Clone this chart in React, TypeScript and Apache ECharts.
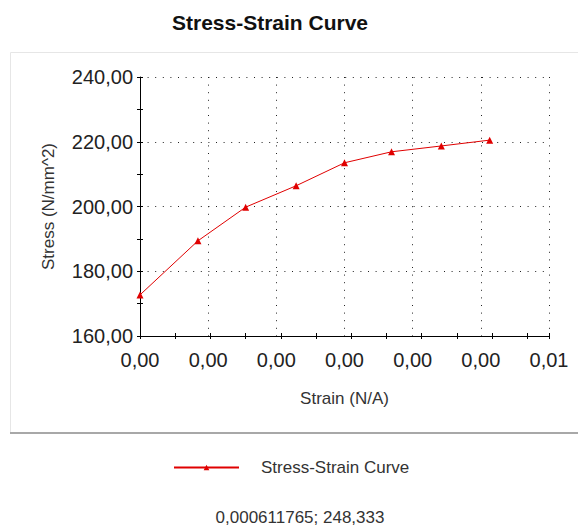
import React, { useEffect, useRef } from "react";
import * as echarts from "echarts";

const seriesName = "Stress-Strain Curve";
const strain = [0, 0.00085, 0.00155, 0.00229, 0.003, 0.00369, 0.00442, 0.00513];
const stress = [172.7, 189.4, 199.8, 206.4, 213.5, 216.9, 218.7, 220.5];
const xTickLabels = ["0,00", "0,00", "0,00", "0,00", "0,00", "0,00", "0,01"];
const cursorText = "0,000611765; 248,333";

const FONT = '"Liberation Sans", Arial, sans-serif';

export default function App() {
  const ref = useRef<HTMLDivElement>(null);
  useEffect(() => {
    if (!ref.current) return;
    const chart = echarts.init(ref.current, undefined, { renderer: "svg" });
    const tickAxisBase = {
      type: "value",
      position: "bottom",
      min: 0,
      max: 11.62,
      interval: 1,
      axisLine: { show: false },
      axisLabel: { show: false },
      splitLine: { show: false },
    };
    const yTickBase = {
      type: "value",
      position: "left",
      min: 160,
      max: 240,
      interval: 10,
      axisLine: { show: false },
      axisLabel: { show: false },
      splitLine: { show: false },
    };
    chart.setOption({
      animation: false,
      textStyle: { fontFamily: FONT },
      grid: { left: 140, right: 29, top: 77, bottom: 189 },
      xAxis: [
        {
          type: "value",
          position: "bottom",
          min: 0,
          max: 0.006,
          interval: 0.001,
          name: "Strain (N/A)",
          nameLocation: "middle",
          nameGap: 54,
          nameTextStyle: { fontSize: 17, color: "#333", fontFamily: FONT },
          axisLine: { show: true, lineStyle: { color: "#000", width: 1 } },
          axisTick: { show: false },
          axisLabel: {
            fontSize: 20,
            color: "#222",
            margin: 14,
            fontFamily: FONT,
            formatter: (_v: number, i: number) => xTickLabels[i] ?? "",
          },
          splitLine: {
            show: true,
            lineStyle: { color: "#222", width: 1, type: [1, 6.6] },
          },
        },
        { ...tickAxisBase, axisTick: { show: true, inside: false, length: 3, lineStyle: { color: "#000" } } },
        { ...tickAxisBase, axisTick: { show: true, inside: true, length: 3, lineStyle: { color: "#000" } } },
      ],
      yAxis: [
        {
          type: "value",
          position: "left",
          min: 160,
          max: 240,
          interval: 20,
          name: "Stress (N/mm^2)",
          nameLocation: "middle",
          nameGap: 83,
          nameRotate: 90,
          nameTextStyle: { fontSize: 17, color: "#333", fontFamily: FONT },
          axisLine: { show: true, lineStyle: { color: "#000", width: 1 } },
          axisTick: { show: false },
          axisLabel: {
            fontSize: 20,
            color: "#222",
            margin: 7,
            fontFamily: FONT,
            formatter: (v: number) => v.toFixed(2).replace(".", ","),
          },
          splitLine: {
            show: true,
            lineStyle: { color: "#222", width: 1, type: [1, 6.6] },
          },
        },
        { ...yTickBase, axisTick: { show: true, inside: false, length: 3, lineStyle: { color: "#000" } } },
        { ...yTickBase, axisTick: { show: true, inside: true, length: 3, lineStyle: { color: "#000" } } },
      ],
      legend: {
        show: true,
        left: 173,
        top: 459,
        padding: 0,
        itemWidth: 65,
        itemHeight: 7,
        data: [seriesName],
        textStyle: { fontSize: 17, color: "#333", fontFamily: FONT, padding: [0, 0, 0, 17] },
      },
      graphic: [
        {
          type: "rect",
          shape: { x: 10.5, y: 52.5, width: 600, height: 380 },
          style: { fill: "none", stroke: "#e6e6e6", lineWidth: 1 },
          silent: true,
        },
        {
          type: "line",
          shape: { x1: 10, y1: 433, x2: 578, y2: 433 },
          style: { stroke: "#a8a8a8", lineWidth: 2 },
          silent: true,
        },
        {
          type: "text",
          x: 270,
          y: 22,
          style: {
            text: seriesName,
            textAlign: "center",
            textVerticalAlign: "middle",
            font: `bold 21px ${FONT}`,
            fill: "#111",
          },
        },
        {
          type: "text",
          x: 300,
          y: 517,
          style: {
            text: cursorText,
            textAlign: "center",
            textVerticalAlign: "middle",
            font: `17px ${FONT}`,
            fill: "#333",
          },
        },
      ],
      series: [
        {
          name: seriesName,
          type: "line",
          xAxisIndex: 0,
          yAxisIndex: 0,
          data: strain.map((x, i) => [x, stress[i]]),
          symbol: "triangle",
          symbolSize: 7,
          showAllSymbol: true,
          lineStyle: { color: "#e00000", width: 1 },
          itemStyle: { color: "#e00000" },
          emphasis: { disabled: true },
        },
      ],
    });
    return () => chart.dispose();
  }, []);
  return (
    <div
      ref={ref}
      style={{ position: "fixed", left: 0, top: 0, width: 578, height: 525, background: "#fff" }}
    />
  );
}
